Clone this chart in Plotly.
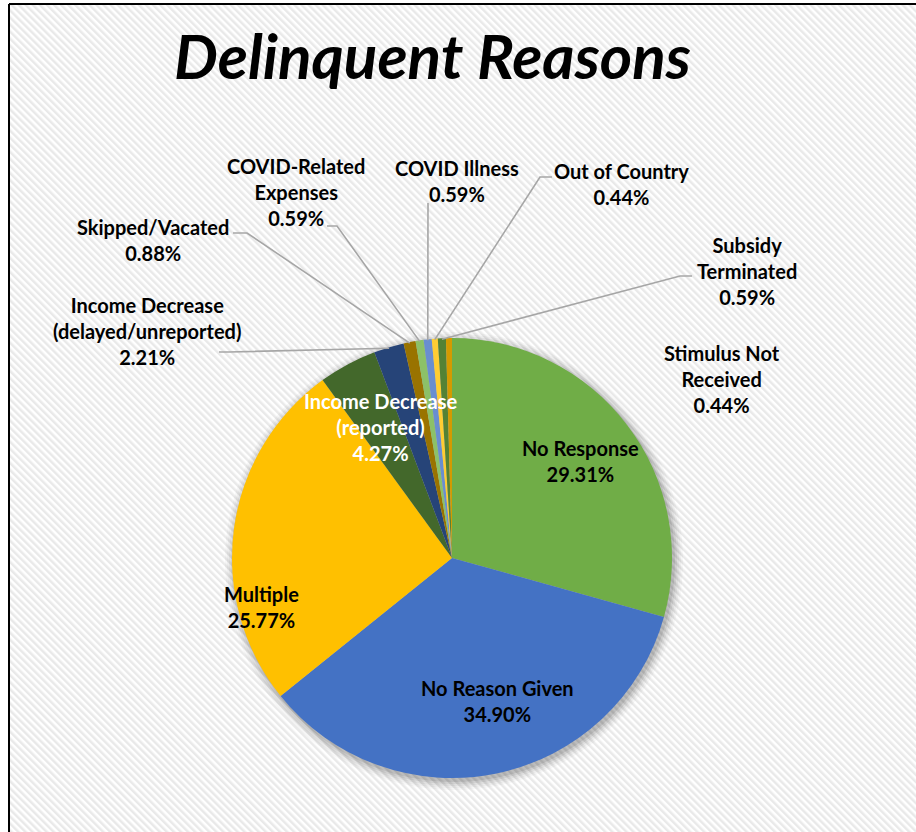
import base64
import math
import plotly.graph_objects as go

# ---------------- data ----------------
categories = [
    "No Response",
    "No Reason Given",
    "Multiple",
    "Income Decrease (reported)",
    "Income Decrease (delayed/unreported)",
    "Skipped/Vacated",
    "COVID-Related Expenses",
    "COVID Illness",
    "Out of Country",
    "Subsidy Terminated",
    "Stimulus Not Received",
]
percent_values = [29.31, 34.90, 25.77, 4.27, 2.21, 0.88, 0.59, 0.59, 0.44, 0.59, 0.44]
display_labels = [
    "No Response",
    "No Reason Given",
    "Multiple",
    "Income Decrease<br>(reported)",
    "Income Decrease<br>(delayed/unreported)",
    "Skipped/Vacated",
    "COVID-Related<br>Expenses",
    "COVID Illness",
    "Out of Country",
    "Subsidy<br>Terminated",
    "Stimulus Not<br>Received",
]
title_text = "Delinquent Reasons"

# ---------------- styles / layout ----------------
W, H = 916, 832
slice_colors = ["#70AD47", "#4472C4", "#FFC000", "#43682B", "#264478", "#997300",
                "#8CC168", "#698ED0", "#FFCD33", "#548235", "#D49A00"]
label_colors = ["#000000", "#000000", "#000000", "#FFFFFF", "#000000", "#000000",
                "#000000", "#000000", "#000000", "#000000", "#000000"]
# label block centres in pixels
label_pos = [(580, 461), (497, 701), (261, 607), (380, 427), (147, 331), (153, 240),
             (296, 192), (457, 181), (621, 184), (747, 271), (722, 379)]
# leader lines: (start_px, elbow_px) or None
leaders = [None, None, None, None,
           ((219, 352), (229, 352)),
           ((233, 233), (247, 233)),
           ((327, 226), (337, 226)),
           ((428, 203), (428, 203)),
           ((552, 177), (540, 177)),
           ((692, 276), (680, 276)),
           None]
CX, CY, R = 452, 558, 220
FONT = "Lato"


def px(x):
    return x / W


def py(y):
    return 1 - y / H


fig = go.Figure()
fig.add_trace(go.Pie(
    labels=categories,
    values=percent_values,
    sort=False,
    direction="clockwise",
    rotation=0,
    textinfo="none",
    hoverinfo="label+value",
    marker=dict(colors=slice_colors, line=dict(width=0)),
    domain=dict(x=[px(CX - R), px(CX + R)], y=[py(CY + R), py(CY - R)]),
    showlegend=False,
))

shapes = []
# soft shadow behind pie
for k, op in [(9, 0.03), (7, 0.04), (5, 0.05), (3, 0.07), (1, 0.09)]:
    ox, oy = 2, 3
    shapes.append(dict(type="circle", xref="paper", yref="paper", layer="below",
                       x0=px(CX + ox - R - k), x1=px(CX + ox + R + k),
                       y0=py(CY + oy + R + k), y1=py(CY + oy - R - k),
                       fillcolor=f"rgba(0,0,0,{op})", line=dict(width=0)))

# leader lines, slice end computed from data
total = sum(percent_values)
cum = 0.0
annotations = []
for i, v in enumerate(percent_values):
    mid = (cum + v / 2) / total * 2 * math.pi
    cum += v
    sx = CX + (R - 1) * math.sin(mid)
    sy = CY - (R - 1) * math.cos(mid)
    if leaders[i] is not None:
        (x0, y0), (x1, y1) = leaders[i]
        path = f"M {px(x0)},{py(y0)} L {px(x1)},{py(y1)} L {px(sx)},{py(sy)}"
        shapes.append(dict(type="path", xref="paper", yref="paper", path=path,
                           line=dict(color="#A6A6A6", width=1.6), layer="above"))
    lx, ly = label_pos[i]
    annotations.append(dict(
        x=px(lx), y=py(ly), xref="paper", yref="paper",
        xanchor="center", yanchor="middle", showarrow=False, align="center",
        text=f"<b>{display_labels[i]}<br>{v:.2f}%</b>",
        font=dict(family=FONT, size=20, color=label_colors[i]),
    ))

annotations.append(dict(
    x=px(432), y=py(55), xref="paper", yref="paper", xanchor="center", yanchor="middle",
    showarrow=False, text=f"<b><i>{title_text}</i></b>",
    font=dict(family=FONT, size=62, color="#000000"),
))

# border lines
shapes.append(dict(type="line", xref="paper", yref="paper", x0=px(9), x1=1.01,
                   y0=py(4), y1=py(4), line=dict(color="#000000", width=2)))
shapes.append(dict(type="line", xref="paper", yref="paper", x0=px(9), x1=px(9),
                   y0=py(4), y1=-0.01, line=dict(color="#000000", width=2)))

# striped background
bw, bh = W - 9, H - 4
svg = (f'<svg xmlns="http://www.w3.org/2000/svg" width="{bw}" height="{bh}">'
       '<defs><pattern id="p" width="5" height="5" patternUnits="userSpaceOnUse" '
       'patternTransform="rotate(-45)"><rect width="5" height="5" fill="#ffffff"/>'
       '<rect width="2.5" height="5" fill="#e9e9e9"/></pattern></defs>'
       '<rect width="100%" height="100%" fill="url(#p)"/></svg>')
src = "data:image/svg+xml;base64," + base64.b64encode(svg.encode()).decode()

fig.update_layout(
    width=W, height=H, autosize=False,
    margin=dict(l=0, r=0, t=0, b=0),
    paper_bgcolor="#ffffff",
    shapes=shapes,
    annotations=annotations,
    images=[dict(source=src, xref="paper", yref="paper", x=px(9), y=py(4),
                 sizex=bw / W, sizey=bh / H, xanchor="left", yanchor="top",
                 sizing="stretch", layer="below")],
)

fig.write_html("out.html")
